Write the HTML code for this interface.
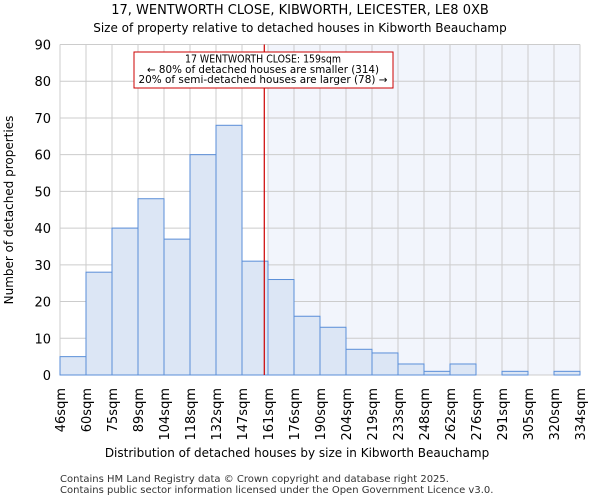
<!DOCTYPE html>
<html><head><meta charset="utf-8"><style>
body{margin:0;background:#fff;font-family:"DejaVu Sans","Liberation Sans",sans-serif}
</style></head><body>
<svg width="600" height="500" id="c" font-family="DejaVu Sans, Liberation Sans, sans-serif">
<text x="300" y="14" text-anchor="middle" font-size="13">17, WENTWORTH CLOSE, KIBWORTH, LEICESTER, LE8 0XB</text>
<text x="300" y="32" text-anchor="middle" font-size="12">Size of property relative to detached houses in Kibworth Beauchamp</text>
<text transform="translate(13,210) rotate(-90)" text-anchor="middle" font-size="12">Number of detached properties</text>
<text x="297" y="457" text-anchor="middle" font-size="12">Distribution of detached houses by size in Kibworth Beauchamp</text>
<text x="60" y="482" font-size="10" fill="#333">Contains HM Land Registry data © Crown copyright and database right 2025.</text>
<text x="60" y="493" font-size="10" fill="#333">Contains public sector information licensed under the Open Government Licence v3.0.</text>
<g id="plot"></g>
</svg>
<script>
const categories=["46sqm","60sqm","75sqm","89sqm","104sqm","118sqm","132sqm","147sqm","161sqm","176sqm","190sqm","204sqm","219sqm","233sqm","248sqm","262sqm","276sqm","291sqm","305sqm","320sqm","334sqm"];
const edges=[46,60,75,89,104,118,132,147,161,176,190,204,219,233,248,262,276,291,305,320,334];
const counts=[5,28,40,48,37,60,68,31,26,16,13,7,6,3,1,3,0,1,0,1];
const yTicks=[0,10,20,30,40,50,60,70,80,90];
const subjectSize=159;
const NS="http://www.w3.org/2000/svg";
const L=60,R=580,T=44.5,B=375,yMax=90;
const xi=i=>L+(R-L)*i/counts.length;
const y=v=>B-(B-T)*v/yMax;
function xv(v){for(let i=0;i<edges.length-1;i++){if(v<=edges[i+1])return xi(i)+(xi(i+1)-xi(i))*(v-edges[i])/(edges[i+1]-edges[i]);}return R;}
const g=document.getElementById('plot');
function mk(t,a){const e=document.createElementNS(NS,t);for(const k in a)e.setAttribute(k,a[k]);g.appendChild(e);return e;}
const sx=xv(subjectSize);
let shadeStart=xi(edges.findIndex(e=>e>subjectSize));
let sh=mk('rect',{x:shadeStart,y:T,width:R-shadeStart,height:B-T,fill:'#f2f5fc'});


for(let i=0;i<=counts.length;i++){let l=mk('line',{x1:xi(i),x2:xi(i),y1:T,y2:B,stroke:'#ccc','stroke-width':1});

}
yTicks.forEach(v=>{let l=mk('line',{x1:L,x2:R,y1:y(v),y2:y(v),stroke:'#ccc','stroke-width':1});


let t=mk('text',{x:L-9,y:y(v)+5,'text-anchor':'end','font-size':13});t.textContent=v;

});
counts.forEach((c,i)=>{let r=mk('rect',{x:xi(i),y:y(c),width:xi(i+1)-xi(i),height:B-y(c),fill:'#dce6f5',stroke:'#5a8ed8','stroke-width':1});

});
categories.forEach((c,i)=>{let t=mk('text',{transform:`translate(${xi(i)+5},388) rotate(-90)`,'text-anchor':'end','font-size':13});t.textContent=c;

});
let rl=mk('line',{x1:sx,x2:sx,y1:T,y2:B,stroke:'#cc0000','stroke-width':1.2});


let box=mk('rect',{x:134,y:52,width:259,height:36,fill:'#fff',stroke:'#cc0000','stroke-width':1});


["17 WENTWORTH CLOSE: 159sqm","← 80% of detached houses are smaller (314)","20% of semi-detached houses are larger (78) →"].forEach((s,i)=>{let t=mk('text',{x:263,y:62.5+i*10.3,'text-anchor':'middle','font-size':10.3,'textLength':i==0?156:i==1?232:249,'lengthAdjust':'spacingAndGlyphs'});t.textContent=s;

});
</script>
</body></html>
